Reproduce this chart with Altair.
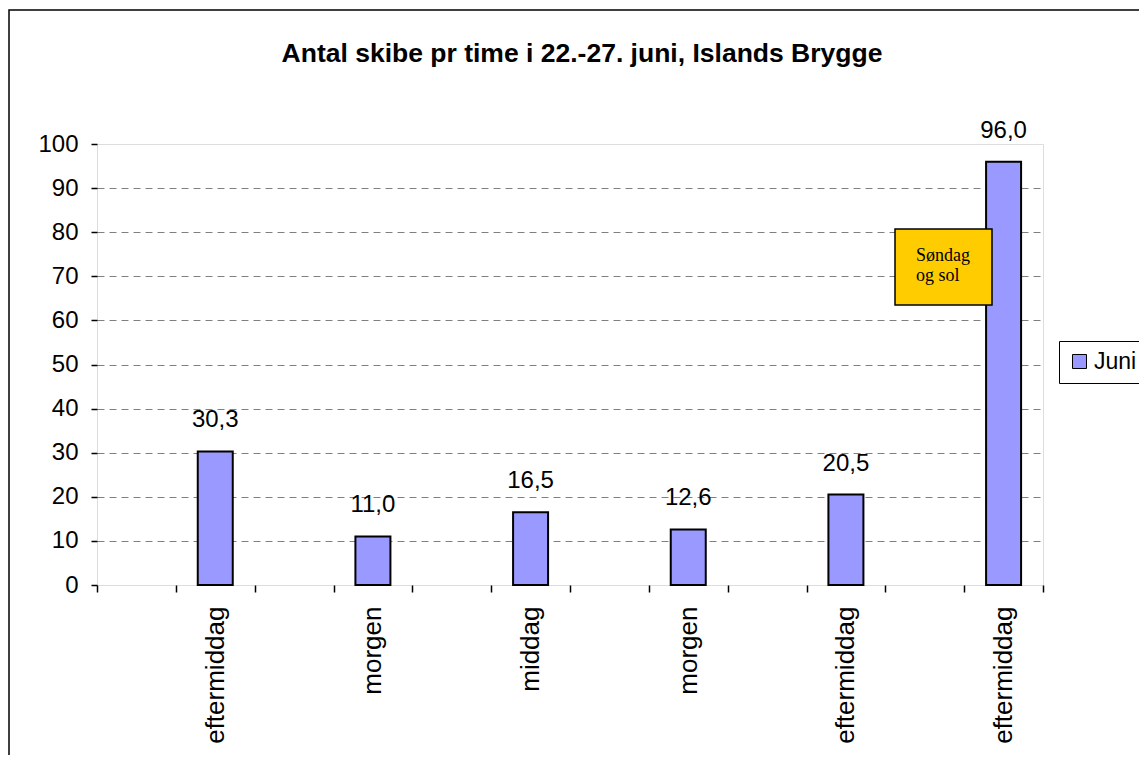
import altair as alt
import pandas as pd

# ---- data ----
slot_labels = ["", "eftermiddag", "", "morgen", "", "middag", "", "morgen",
               "", "eftermiddag", "", "eftermiddag"]
slot_values = [None, 30.3, None, 11.0, None, 16.5, None, 12.6, None, 20.5, None, 96.0]
series_name = "Juni"
y_ticks = [0, 10, 20, 30, 40, 50, 60, 70, 80, 90, 100]
title_text = "Antal skibe pr time i 22.-27. juni, Islands Brygge"
note_lines = ["Søndag", "og sol"]

slot_keys = [f"{i:02d}" for i in range(len(slot_labels))]
df = pd.DataFrame({"slot": slot_keys, "value": slot_values, "serie": series_name}).dropna()

label_array = "[" + ",".join(f"'{s}'" for s in slot_labels) + "]"
FONT = "Liberation Sans"

x_enc = alt.X(
    "slot:N",
    sort=slot_keys,
    scale=alt.Scale(domain=slot_keys, paddingInner=0, paddingOuter=0),
    axis=alt.Axis(
        title=None,
        labelExpr=f"{label_array}[toNumber(datum.value)]",
        labelAngle=-90,
        labelFont=FONT,
        labelFontSize=26,
        labelColor="black",
        labelPadding=14,
        tickBand="extent",
        tickColor="black",
        tickSize=7,
        tickWidth=1.5,
        domain=False,
        grid=False,
    ),
)
y_enc = alt.Y(
    "value:Q",
    scale=alt.Scale(domain=[0, 100], nice=False, zero=True),
    axis=alt.Axis(
        title=None,
        values=y_ticks,
        labelFont=FONT,
        labelFontSize=24,
        labelColor="black",
        labelPadding=13,
        tickColor="black",
        tickSize=6,
        tickWidth=1.5,
        domain=False,
        grid=True,
        gridColor="#808080",
        gridDash=[7, 5],
        gridWidth=1,
        gridOpacity=alt.condition("datum.value == 0 || datum.value == 100",
                                  alt.value(0), alt.value(1)),
    ),
)

base = alt.Chart(df)

bars = base.mark_bar(size=35, stroke="black", strokeWidth=2).encode(
    x=x_enc,
    y=y_enc,
    color=alt.Color(
        "serie:N",
        scale=alt.Scale(range=["#9999FF"]),
        legend=alt.Legend(
            title=None,
            orient="none",
            legendX=962,
            legendY=197,
            fillColor="white",
            strokeColor="black",
            padding=9,
            symbolType="square",
            symbolSize=196,
            symbolStrokeColor="black",
            symbolStrokeWidth=1,
            labelFont=FONT,
            labelFontSize=23,
            labelColor="black",
            labelOffset=3,
        ),
    ),
)

labels = base.transform_calculate(
    lab="replace(format(datum.value, '.1f'), '.', ',')"
).mark_text(
    dy=-24, baseline="alphabetic", align="center", font=FONT, fontSize=24, color="black"
).encode(x=x_enc, y=y_enc, text="lab:N")

one = alt.Data(values=[{"k": 1}])

frame = alt.Chart(one).mark_rect(fill="transparent", stroke="black", strokeWidth=1.5).encode(
    x=alt.value(-88), x2=alt.value(1200), y=alt.value(-134), y2=alt.value(900)
)

note_box = alt.Chart(one).mark_rect(fill="#FFCC00", stroke="black", strokeWidth=1.5).encode(
    x=alt.value(798), x2=alt.value(895), y=alt.value(85), y2=alt.value(161)
)
note_text = alt.Chart(one).mark_text(
    align="left", baseline="alphabetic", font="Liberation Serif", fontSize=18,
    lineHeight=20, color="black"
).encode(x=alt.value(819), y=alt.value(117), text=alt.value(note_lines))

chart = alt.layer(frame, bars, labels, note_box, note_text).properties(
    width=946,
    height=441,
    autosize=alt.AutoSizeParams(type="none"),
    padding={"left": 89, "top": 136, "right": 96, "bottom": 170},
    title=alt.TitleParams(
        title_text, font=FONT, fontSize=26.5, fontWeight="bold", color="black",
        anchor="middle", dx=12, baseline="alphabetic", offset=-79,
    ),
).configure_view(stroke="black", strokeWidth=2).configure(background="white")

chart.save("out.html", embed_options={"renderer": "svg", "actions": False})
